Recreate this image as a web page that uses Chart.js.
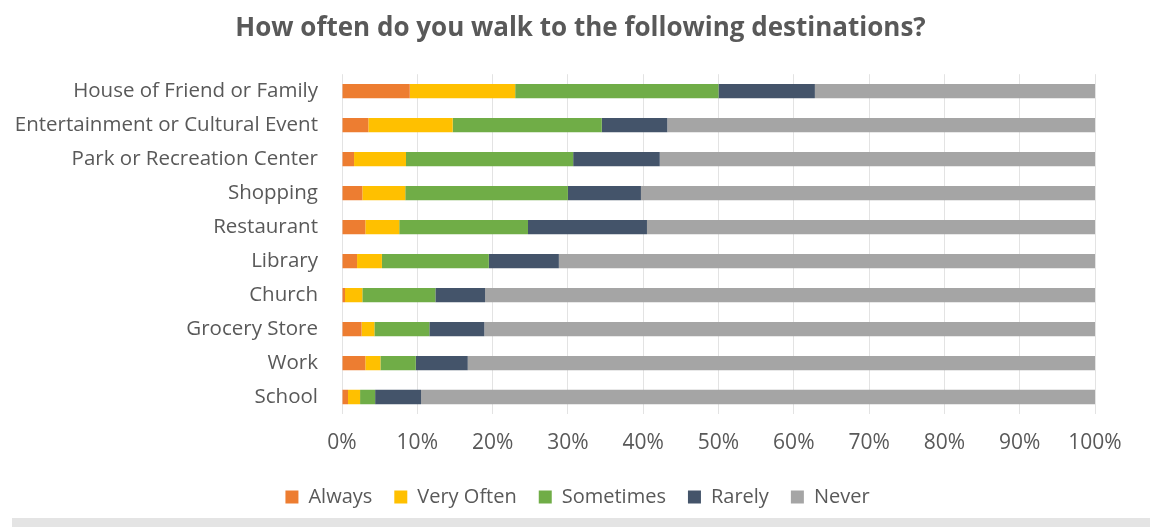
<!DOCTYPE html>
<html lang="en">
<head>
    <meta charset="UTF-8">
    <title>How often do you walk to the following destinations?</title>
    <script src="https://cdn.jsdelivr.net/npm/chart.js"></script>
    <style>
        body {
            margin: 0;
            background: #ffffff;
            font-family: 'Open Sans', sans-serif;
        }

        .chart-box {
            position: relative;
            width: 1150px;
            height: 527px;
        }

        .bottom-strip {
            position: absolute;
            left: 12px;
            right: 0;
            top: 518px;
            height: 9px;
            background: #e4e4e4;
        }
    </style>
</head>
<body>
    <div class="chart-box">
        <canvas id="walkChart"></canvas>
        <div class="bottom-strip"></div>
    </div>

    <script>
        // Destinations, top to bottom
        const destinations = [
            'House of Friend or Family',
            'Entertainment or Cultural Event',
            'Park or Recreation Center',
            'Shopping',
            'Restaurant',
            'Library',
            'Church',
            'Grocery Store',
            'Work',
            'School'
        ];

        // Share of answers (%)
        const always     = [9.0, 3.5, 1.6, 2.7, 3.1, 2.0, 0.4, 2.6, 3.1, 0.8];
        const veryOften  = [14.0, 11.2, 6.9, 5.7, 4.5, 3.3, 2.3, 1.7, 2.0, 1.6];
        const sometimes  = [27.0, 19.8, 22.2, 21.6, 17.1, 14.2, 9.7, 7.3, 4.7, 2.0];
        const rarely     = [12.8, 8.7, 11.5, 9.7, 15.8, 9.3, 6.6, 7.3, 6.9, 6.1];
        const never      = [37.2, 56.8, 57.8, 60.3, 59.5, 71.2, 81.0, 81.1, 83.3, 89.5];

        const tickValues = [0, 10, 20, 30, 40, 50, 60, 70, 80, 90, 100];

        const textColor = '#595959';

        function series(label, data, color) {
            return {
                label: label,
                data: data,
                backgroundColor: color,
                borderWidth: 0,
                barPercentage: 0.42,
                categoryPercentage: 1.0
            };
        }

        // title and legend sit a bit right of the canvas centre in the original
        const shiftBoxes = {
            id: 'shiftBoxes',
            afterLayout(chart) {
                chart.titleBlock.left += 33;
                chart.titleBlock.right += 33;
                chart.legend.left += 30;
                chart.legend.right += 30;
            }
        };

        new Chart(document.getElementById('walkChart'), {
            type: 'bar',
            data: {
                labels: destinations,
                datasets: [
                    series('Always', always, '#ED7D31'),
                    series('Very Often', veryOften, '#FFC000'),
                    series('Sometimes', sometimes, '#70AD47'),
                    series('Rarely', rarely, '#44546A'),
                    series('Never', never, '#A5A5A5')
                ]
            },
            plugins: [shiftBoxes],
            options: {
                indexAxis: 'y',
                responsive: true,
                maintainAspectRatio: false,
                animation: false,
                layout: {
                    padding: { left: 0, right: 55, top: 4, bottom: 10 }
                },
                plugins: {
                    title: {
                        display: true,
                        text: 'How often do you walk to the following destinations?',
                        color: textColor,
                        font: { family: 'Open Sans', size: 26, weight: 'bold' },
                        padding: { top: 9, bottom: 30 }
                    },
                    legend: {
                        position: 'bottom',
                        labels: {
                            color: textColor,
                            font: { family: 'Open Sans', size: 20 },
                            boxWidth: 13,
                            boxHeight: 13,
                            padding: 22
                        }
                    },
                    tooltip: { enabled: false }
                },
                scales: {
                    x: {
                        stacked: true,
                        min: 0,
                        max: 100,
                        afterBuildTicks: scale => {
                            scale.ticks = tickValues.map(v => ({ value: v }));
                        },
                        afterFit: scale => {
                            scale.height = 51;
                        },
                        ticks: {
                            color: textColor,
                            font: { family: 'Open Sans', size: 21 },
                            padding: 16,
                            maxRotation: 0,
                            callback: v => v + '%'
                        },
                        grid: {
                            color: '#e3e3e3',
                            drawTicks: false
                        },
                        border: { display: false }
                    },
                    y: {
                        stacked: true,
                        afterFit: scale => {
                            scale.width = 342;
                        },
                        ticks: {
                            color: textColor,
                            font: { family: 'Open Sans', size: 20.5 },
                            padding: 16
                        },
                        grid: { display: false },
                        border: { display: false }
                    }
                }
            }
        });
    </script>
</body>
</html>
